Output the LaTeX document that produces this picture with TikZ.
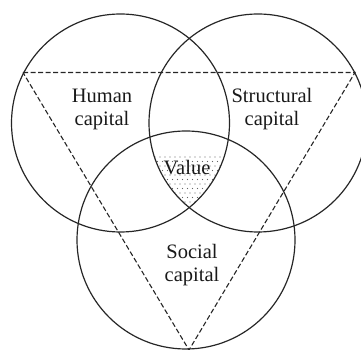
\documentclass[tikz,border=0pt]{standalone}
\usepackage{fontspec}
\setmainfont{Liberation Serif}
\begin{document}
\begin{tikzpicture}[x=1pt,y=1pt,
  ring/.style={draw=black!85,line width=1.2pt},
  tri/.style={draw=black!85,line width=1.1pt,dash pattern=on 5pt off 2.5pt},
  label/.style={inner sep=0pt,align=center,font=\fontsize{20.5}{23}\selectfont,text=black!90}]
  \useasboundingbox (0,0) rectangle (361,350);
  % circle centres
  \coordinate (cH) at (120.5,227);
  \coordinate (cS) at (258,227);
  \coordinate (cC) at (186,110);
  % dotted core shared by all three circles
  \begin{scope}
    \clip (cH) circle (109);
    \clip (cS) circle (109);
    \clip (cC) circle (109);
    \foreach \i in {0,...,14} {
      \foreach \j in {0,...,14} {
        \fill[black!60] ({150+\i*5+mod(\j,2)*2.5},{130+\j*4.5}) circle (0.55);
      }
    }
  \end{scope}
  % the three circles
  \draw[ring] (cH) circle (109);
  \draw[ring] (cS) circle (109);
  \draw[ring] (cC) circle (109);
  % dashed triangle
  \coordinate (tl) at (23,277.5);
  \coordinate (tr) at (355,277.5);
  \coordinate (bt) at (189,0);
  \draw[tri] (tl) -- (tr) -- (bt) -- cycle;
  % labels
  \node[label] (human) at (102,240.5) {Human\\capital};
  \node[label] (struct) at (272,240.5) {Structural\\capital};
  \node[label] (value) at (187,182.5) {Value};
  \node[label] (social) at (192,85) {Social\\capital};
\end{tikzpicture}
\end{document}
